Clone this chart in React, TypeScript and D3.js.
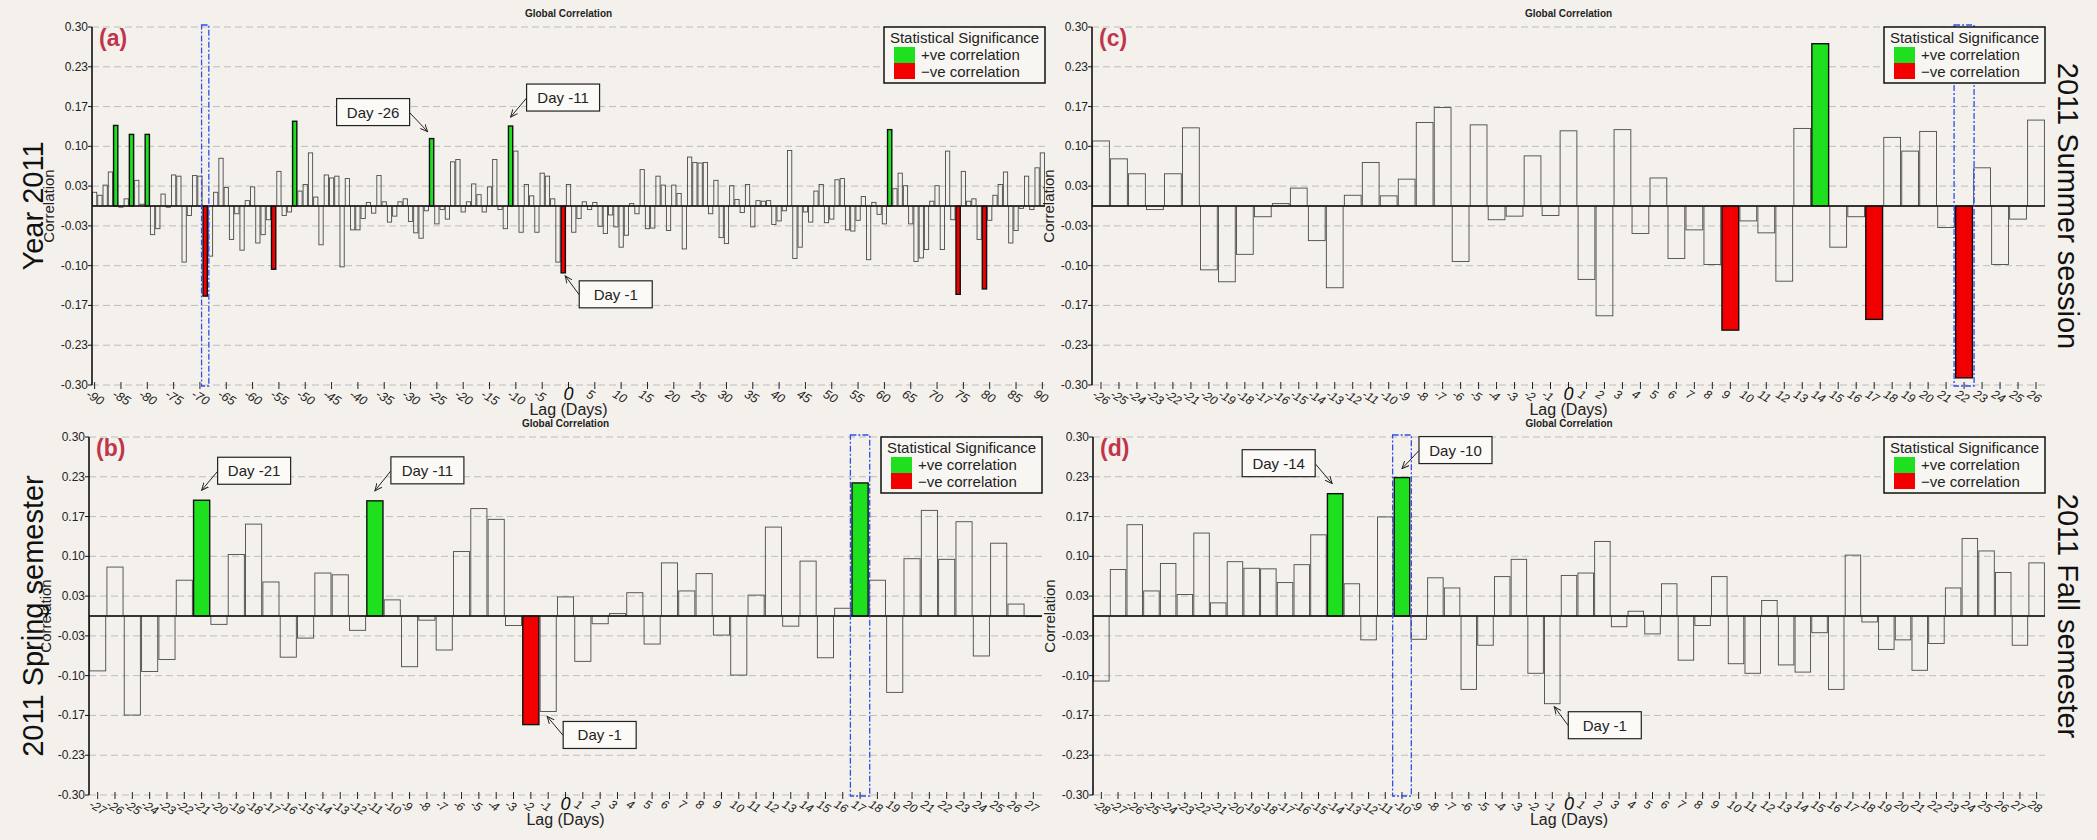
import React from 'react';
import * as d3 from 'd3';

const W = 2097;
const H = 840;

// lag categories for each panel
const lagsA = d3.range(-90, 91);
const lagsB = d3.range(-27, 28);
const lagsC = d3.range(-26, 27);
const lagsD = d3.range(-28, 29);

// (a) Year 2011, lag -90 .. 90
const corrA = [
  0.023, 0.018, 0.035, 0.057, 0.135, -0.002, 0.012, 0.120, 0.043, 0.003,
  0.120, -0.048, -0.038, 0.020, -0.002, 0.052, 0.050, -0.094, -0.016, 0.051,
  0.050, -0.151, -0.084, 0.023, 0.080, 0.031, -0.056, -0.013, -0.074, 0.009,
  0.032, -0.062, -0.048, -0.023, -0.106, 0.058, -0.016, -0.010, 0.142, 0.025,
  0.036, 0.089, 0.015, -0.065, 0.052, 0.047, 0.050, -0.102, 0.046, -0.040,
  -0.040, -0.021, 0.006, -0.012, 0.051, 0.007, -0.027, -0.017, 0.007, 0.012,
  -0.026, -0.045, -0.054, -0.008, 0.113, -0.030, -0.006, -0.022, 0.074, 0.078,
  -0.010, 0.007, 0.037, 0.019, -0.010, 0.032, 0.078, -0.006, -0.038, 0.134,
  0.092, -0.044, 0.036, 0.017, -0.044, 0.055, 0.050, 0.012, -0.094, -0.112,
  0.036, -0.044, -0.021, 0.007, -0.006, 0.006, -0.034, -0.046, -0.015, -0.035,
  -0.069, -0.049, 0.004, -0.013, 0.061, -0.038, -0.037, 0.050, 0.035, -0.041,
  0.035, 0.021, -0.072, 0.082, 0.073, 0.072, 0.073, -0.013, 0.043, -0.053,
  -0.063, 0.034, 0.011, -0.011, 0.036, -0.035, 0.009, 0.008, 0.009, -0.031,
  -0.025, -0.008, 0.093, -0.088, -0.069, -0.010, -0.027, 0.025, 0.036, -0.028,
  -0.022, 0.044, 0.046, -0.040, -0.042, -0.024, 0.016, -0.090, 0.006, -0.014,
  -0.030, 0.128, 0.029, 0.055, 0.034, -0.030, -0.093, -0.087, -0.073, 0.008,
  0.034, -0.073, 0.092, -0.023, -0.148, 0.058, 0.008, 0.012, -0.056, -0.139,
  -0.024, 0.018, 0.036, 0.057, -0.062, -0.041, -0.004, 0.050, -0.006, 0.064, 0.089,
];
const sigPosA = [-86, -83, -80, -52, -26, -11, 61];
const sigNegA = [-69, -56, -1, 74, 79];

// (b) 2011 Spring semester, lag -27 .. 27
const corrB = [
  -0.092, 0.082, -0.166, -0.093, -0.073, 0.060, 0.194, -0.014, 0.103, 0.154,
  0.057, -0.069, -0.037, 0.072, 0.069, -0.024, 0.193, 0.027, -0.085, -0.007,
  -0.057, 0.108, 0.180, 0.162, -0.016, -0.182, -0.160, 0.032, -0.076, -0.013,
  0.004, 0.039, -0.047, 0.089, 0.042, 0.071, -0.032, -0.099, 0.035, 0.149,
  -0.017, 0.092, -0.070, 0.013, 0.223, 0.060, -0.128, 0.096, 0.177, 0.095,
  0.158, -0.067, 0.122, 0.020, -0.001,
];
const sigPosB = [-21, -11, 17];
const sigNegB = [-2];

// (c) 2011 Summer session, lag -26 .. 26
const corrC = [
  0.109, 0.079, 0.054, -0.006, 0.054, 0.131, -0.107, -0.127, -0.081, -0.018,
  0.004, 0.030, -0.058, -0.137, 0.018, 0.073, 0.017, 0.045, 0.140, 0.165,
  -0.093, 0.136, -0.023, -0.017, 0.084, -0.016, 0.126, -0.123, -0.184, 0.128,
  -0.046, 0.047, -0.088, -0.040, -0.098, -0.208, -0.025, -0.045, -0.126, 0.130,
  0.272, -0.069, -0.018, -0.190, 0.115, 0.092, 0.125, -0.036, -0.288, 0.064,
  -0.098, -0.022, 0.144,
];
const sigPosC = [14];
const sigNegC = [9, 17, 22];

// (d) 2011 Fall semester, lag -28 .. 28
const corrD = [
  -0.109, 0.078, 0.153, 0.042, 0.088, 0.036, 0.139, 0.022, 0.091, 0.080,
  0.079, 0.056, 0.086, 0.136, 0.205, 0.054, -0.040, 0.166, 0.232, -0.039,
  0.064, 0.047, -0.123, -0.049, 0.066, 0.095, -0.096, -0.147, 0.068, 0.072,
  0.125, -0.018, 0.008, -0.030, 0.054, -0.074, -0.016, 0.066, -0.080, -0.096,
  0.026, -0.082, -0.094, -0.028, -0.123, 0.102, -0.010, -0.056, -0.040, -0.091,
  -0.046, 0.047, 0.130, 0.109, 0.073, -0.049, 0.089,
];
const sigPosD = [-14, -10];
const sigNegD: number[] = [];

// y ticks
const yTickVals = [-0.3, -7 / 30, -5 / 30, -0.1, -1 / 30, 1 / 30, 0.1, 5 / 30, 7 / 30, 0.3];
const yTickLabels = ['-0.30', '-0.23', '-0.17', '-0.10', '-0.03', '0.03', '0.10', '0.17', '0.23', '0.30'];

// x tick labels
const ticksA = d3.range(-90, 91, 5);

const GREEN = '#1fe01f';
const RED = '#f20000';
const BG = '#f4f1ec';
const TXT = 'Liberation Sans, Arial, sans-serif';

const panels = [
  {
    key: 'a', lags: lagsA, values: corrA, sigPos: sigPosA, sigNeg: sigNegA, ticks: ticksA,
    mark: -69, x0: 92, x1: 1045, top: 27, bottom: 385, tag: '(a)', side: 'Year 2011', right: false,
    tickFont: 12.5,
    notes: [
      { lag: -26, text: 'Day -26', tip: [-4, -7], box: [-95, -40] },
      { lag: -11, text: 'Day -11', tip: [0, -9], box: [16, -42] },
      { lag: -1, text: 'Day -1', tip: [2, 3], box: [16, 8] },
    ],
  },
  {
    key: 'b', lags: lagsB, values: corrB, sigPos: sigPosB, sigNeg: sigNegB, ticks: lagsB,
    mark: 17, x0: 89, x1: 1042, top: 437, bottom: 795, tag: '(b)', side: '2011 Spring semester', right: false,
    tickFont: 12,
    notes: [
      { lag: -21, text: 'Day -21', tip: [0, -10], box: [16, -43] },
      { lag: -11, text: 'Day -11', tip: [0, -10], box: [16, -44] },
      { lag: -1, text: 'Day -1', tip: [-1, 5], box: [15, 10] },
    ],
  },
  {
    key: 'c', lags: lagsC, values: corrC, sigPos: sigPosC, sigNeg: sigNegC, ticks: lagsC,
    mark: 22, x0: 1092, x1: 2045, top: 27, bottom: 385, tag: '(c)', side: '2011 Summer session', right: true,
    tickFont: 12,
    notes: [],
  },
  {
    key: 'd', lags: lagsD, values: corrD, sigPos: sigPosD, sigNeg: sigNegD, ticks: lagsD,
    mark: -10, x0: 1093, x1: 2045, top: 437, bottom: 795, tag: '(d)', side: '2011 Fall semester', right: true,
    tickFont: 12,
    notes: [
      { lag: -14, text: 'Day -14', tip: [-3, -10], box: [-93, -44] },
      { lag: -10, text: 'Day -10', tip: [0, -9], box: [17, -41] },
      { lag: -1, text: 'Day -1', tip: [2, 3], box: [16, 8] },
    ],
  },
];

type P = typeof panels[number];

const Panel = ({ p }: { p: P }) => {
  const x = d3.scaleBand<number>().domain(p.lags).range([p.x0, p.x1]).padding(0);
  const y = d3.scaleLinear().domain([-0.3, 0.3]).range([p.bottom, p.top]);
  const bw = x.bandwidth();
  const cx = (l: number) => (x(l) as number) + bw / 2;
  const inset = bw < 8 ? 0.5 : 0.6;
  const mid = (p.x0 + p.x1) / 2;
  const midY = (p.top + p.bottom) / 2;
  const boxW = 73;
  const boxH = 27;
  const lgW = 161;
  const lgX = p.x1 - lgW;
  const lgY = p.top;

  return (
    <g>
      {/* grid */}
      {yTickVals.map((v, i) => (
        <line key={'g' + i} x1={p.x0} x2={p.x1} y1={y(v)} y2={y(v)}
          stroke="#bdbdbd" strokeWidth={1} strokeDasharray="7,4" />
      ))}

      {/* bars */}
      {p.lags.map((l, i) => {
        const v = p.values[i];
        const pos = p.sigPos.includes(l);
        const neg = p.sigNeg.includes(l);
        const sig = pos || neg;
        const y0 = y(0);
        const yv = y(v);
        return (
          <rect key={'b' + l}
            x={(x(l) as number) + inset} width={bw - 2 * inset}
            y={Math.min(y0, yv)} height={Math.abs(yv - y0)}
            fill={pos ? GREEN : neg ? RED : 'none'}
            stroke={sig ? '#111' : '#4a4a4a'} strokeWidth={sig ? 1.4 : 0.9} />
        );
      })}

      {/* zero line and y axis */}
      <line x1={p.x0} x2={p.x1} y1={y(0)} y2={y(0)} stroke="#111" strokeWidth={1.6} />
      <line x1={p.x0} x2={p.x0} y1={p.top} y2={p.bottom} stroke="#111" strokeWidth={1.6} />

      {yTickVals.map((v, i) => (
        <g key={'yt' + i}>
          <line x1={p.x0 - 4} x2={p.x0} y1={y(v)} y2={y(v)} stroke="#111" strokeWidth={1} />
          <text x={p.x0 - 4} y={y(v) + 4} textAnchor="end" fontSize={12}
            fontFamily={TXT} fill="#222">{yTickLabels[i]}</text>
        </g>
      ))}

      {/* x ticks */}
      {p.ticks.map((t) => (
        <g key={'xt' + t}>
          <line x1={cx(t)} x2={cx(t)} y1={p.bottom - 3} y2={p.bottom + 4} stroke="#222" strokeWidth={1} />
          {t !== 0 && (
            <text transform={`translate(${cx(t) - 5},${p.bottom + 4}) rotate(30)`}
              fontSize={p.tickFont} fontStyle="italic" fontFamily={TXT} fill="#222"
              dominantBaseline="hanging">{t}</text>
          )}
        </g>
      ))}
      <text x={cx(0)} y={p.bottom + 15} textAnchor="middle" fontSize={18} fontStyle="italic"
        fontFamily={TXT} fill="#111">0</text>
      <text x={mid} y={p.bottom + 30} textAnchor="middle" fontSize={16}
        fontFamily={TXT} fill="#222">Lag (Days)</text>

      {/* title */}
      <text x={mid} y={p.top - 10} textAnchor="middle" fontSize={10} fontWeight="bold"
        fontFamily={TXT} fill="#222">Global Correlation</text>

      {/* y title */}
      <text transform={`translate(${p.x0 - 38},${midY}) rotate(-90)`} textAnchor="middle"
        fontSize={15} fontFamily={TXT} fill="#222">Correlation</text>

      {/* panel tag */}
      <text x={p.x0 + 7} y={p.top + 19} fontSize={23} fontWeight="bold" fontFamily={TXT}
        fill="#c0354b">{p.tag}</text>

      {/* highlighted lag */}
      <rect x={(x(p.mark) as number) - 1} width={bw + 2} y={p.top - 2} height={p.bottom - p.top + 3}
        fill="none" stroke="#2f4fe8" strokeWidth={1.3} strokeDasharray="6,2,2,2" />

      {/* annotations */}
      {p.notes.map((n) => {
        const i = p.lags.indexOf(n.lag);
        const bx = cx(n.lag);
        const by = y(p.values[i]);
        const tx = bx + n.tip[0];
        const ty = by + n.tip[1];
        const rx = bx + n.box[0];
        const ry = by + n.box[1];
        const sx = n.box[0] > 0 ? rx : rx + boxW;
        const sy = ry + 14;
        return (
          <g key={'n' + n.text}>
            <line x1={sx} y1={sy} x2={tx} y2={ty} stroke="#222" strokeWidth={1} markerEnd="url(#arr)" />
            <rect x={rx} y={ry} width={boxW} height={boxH} fill="#fbfaf7" stroke="#222" strokeWidth={1.2} />
            <text x={rx + boxW / 2} y={ry + 19} textAnchor="middle" fontSize={15}
              fontFamily={TXT} fill="#222">{n.text}</text>
          </g>
        );
      })}

      {/* legend */}
      <g>
        <rect x={lgX} y={lgY} width={lgW} height={56} fill="#f8f6f2" stroke="#111" strokeWidth={1.5} />
        <text x={lgX + lgW / 2} y={lgY + 16} textAnchor="middle" fontSize={15} fontFamily={TXT} fill="#222">
          Statistical Significance
        </text>
        <rect x={lgX + 10} y={lgY + 20} width={21} height={16} fill={GREEN} />
        <rect x={lgX + 10} y={lgY + 36} width={21} height={16} fill={RED} />
        <text x={lgX + 37} y={lgY + 33} fontSize={15} fontFamily={TXT} fill="#222">+ve correlation</text>
        <text x={lgX + 37} y={lgY + 50} fontSize={15} fontFamily={TXT} fill="#222">−ve correlation</text>
      </g>

      {/* side label */}
      <text
        transform={p.right ? `translate(2058,${midY}) rotate(90)` : `translate(43,${midY}) rotate(-90)`}
        textAnchor="middle" fontSize={29} fontFamily={TXT} fill="#111">{p.side}</text>
    </g>
  );
};

export default function App() {
  return (
    <svg width={W} height={H} style={{ position: 'absolute', left: 0, top: 0 }}>
      <defs>
        <marker id="arr" viewBox="0 0 10 10" refX={9} refY={5} markerWidth={8} markerHeight={8} orient="auto">
          <path d="M0,1 L9,5 L0,9" fill="none" stroke="#222" strokeWidth={1.2} />
        </marker>
      </defs>
      <rect x={0} y={0} width={W} height={H} fill={BG} />
      {panels.map((p) => <Panel key={p.key} p={p} />)}
    </svg>
  );
}
